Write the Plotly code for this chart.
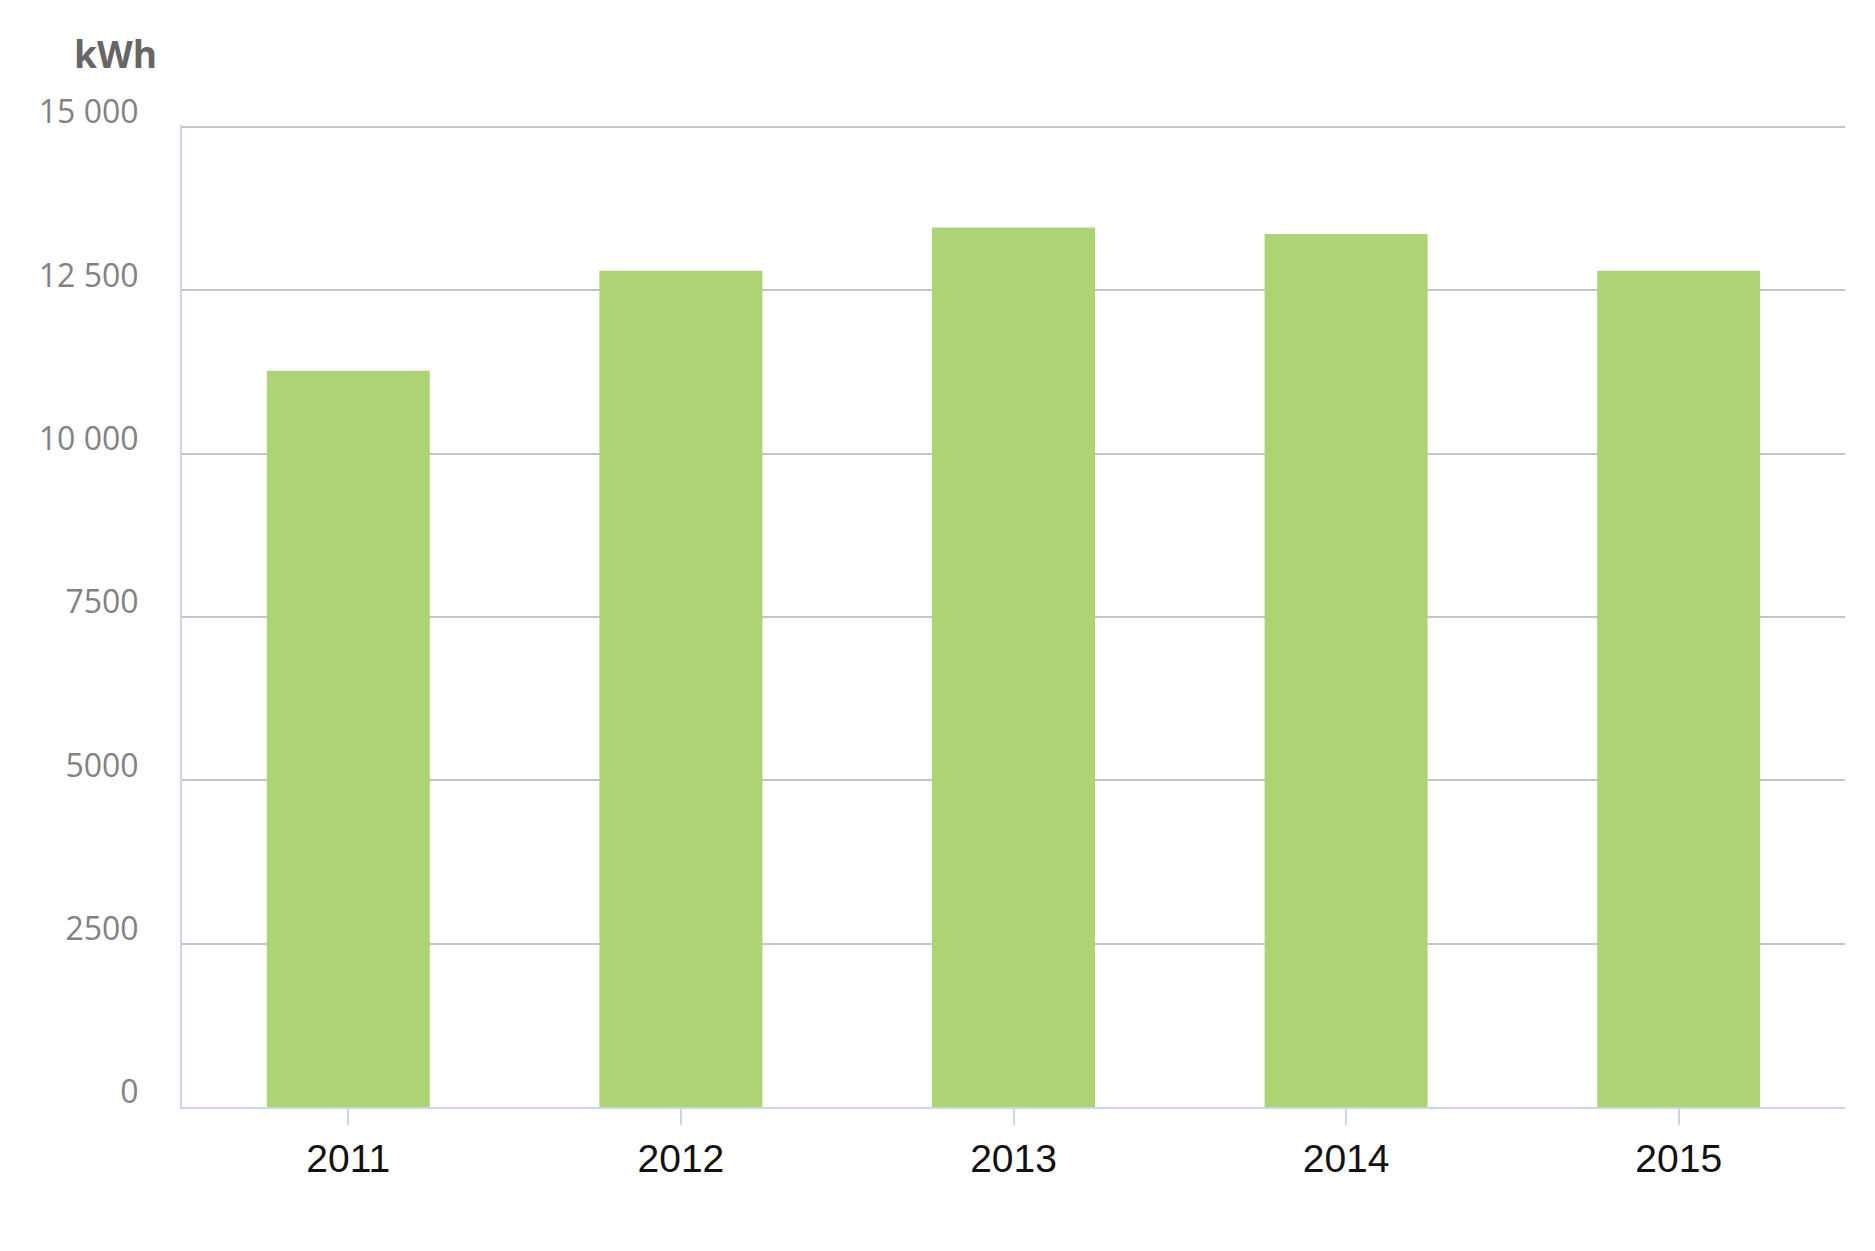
import plotly.graph_objects as go

# ─── ДАННЫЕ ─────────────────────────────────────────────
years = ["2011", "2012", "2013", "2014", "2015"]
energy_kwh = [11270, 12800, 13460, 13360, 12800]

y_tick_values = [0, 2500, 5000, 7500, 10000, 12500, 15000]
y_tick_labels = ["0", "2500", "5000", "7500", "10 000", "12 500", "15 000"]

BAR_COLOR = "#aed375"
AXIS_COLOR = "#ccd6eb"
GRID_COLOR = "#c4c4c4"

fig = go.Figure(go.Bar(
    x=years,
    y=energy_kwh,
    marker=dict(color=BAR_COLOR, line=dict(width=0)),
    width=0.49,
))

# страница добавляет 8px отступа, поэтому фигура чуть меньше окна
fig.update_layout(
    width=1859,
    height=1235,
    margin=dict(l=174, r=22, t=117, b=136),
    paper_bgcolor="white",
    plot_bgcolor="white",
    showlegend=False,
    font=dict(family="Open Sans, sans-serif"),
)

fig.update_xaxes(
    showline=True, linecolor=AXIS_COLOR, linewidth=2,
    ticks="outside", ticklen=16, tickcolor=AXIS_COLOR, tickwidth=2,
    tickfont=dict(family="Liberation Sans Narrow, Arial Narrow, sans-serif",
                  size=39, color="#111111"),
    showgrid=False,
)

fig.update_yaxes(
    range=[0, 15030],
    tickvals=y_tick_values, ticktext=y_tick_labels,
    showgrid=True, gridcolor=GRID_COLOR, gridwidth=2,
    zeroline=False,
    showline=True, linecolor=AXIS_COLOR, linewidth=2,
    ticks="", ticklabelstandoff=35, ticklabelshift=-15,
    tickfont=dict(size=32, color="#828282"),
)

# подпись единиц над осью
fig.add_annotation(
    text="<b>kWh</b>", xref="paper", yref="paper",
    x=-0.040, y=1.073, xanchor="center", yanchor="middle",
    showarrow=False, font=dict(size=37, color="#666666"),
)

fig.write_html("out.html")
